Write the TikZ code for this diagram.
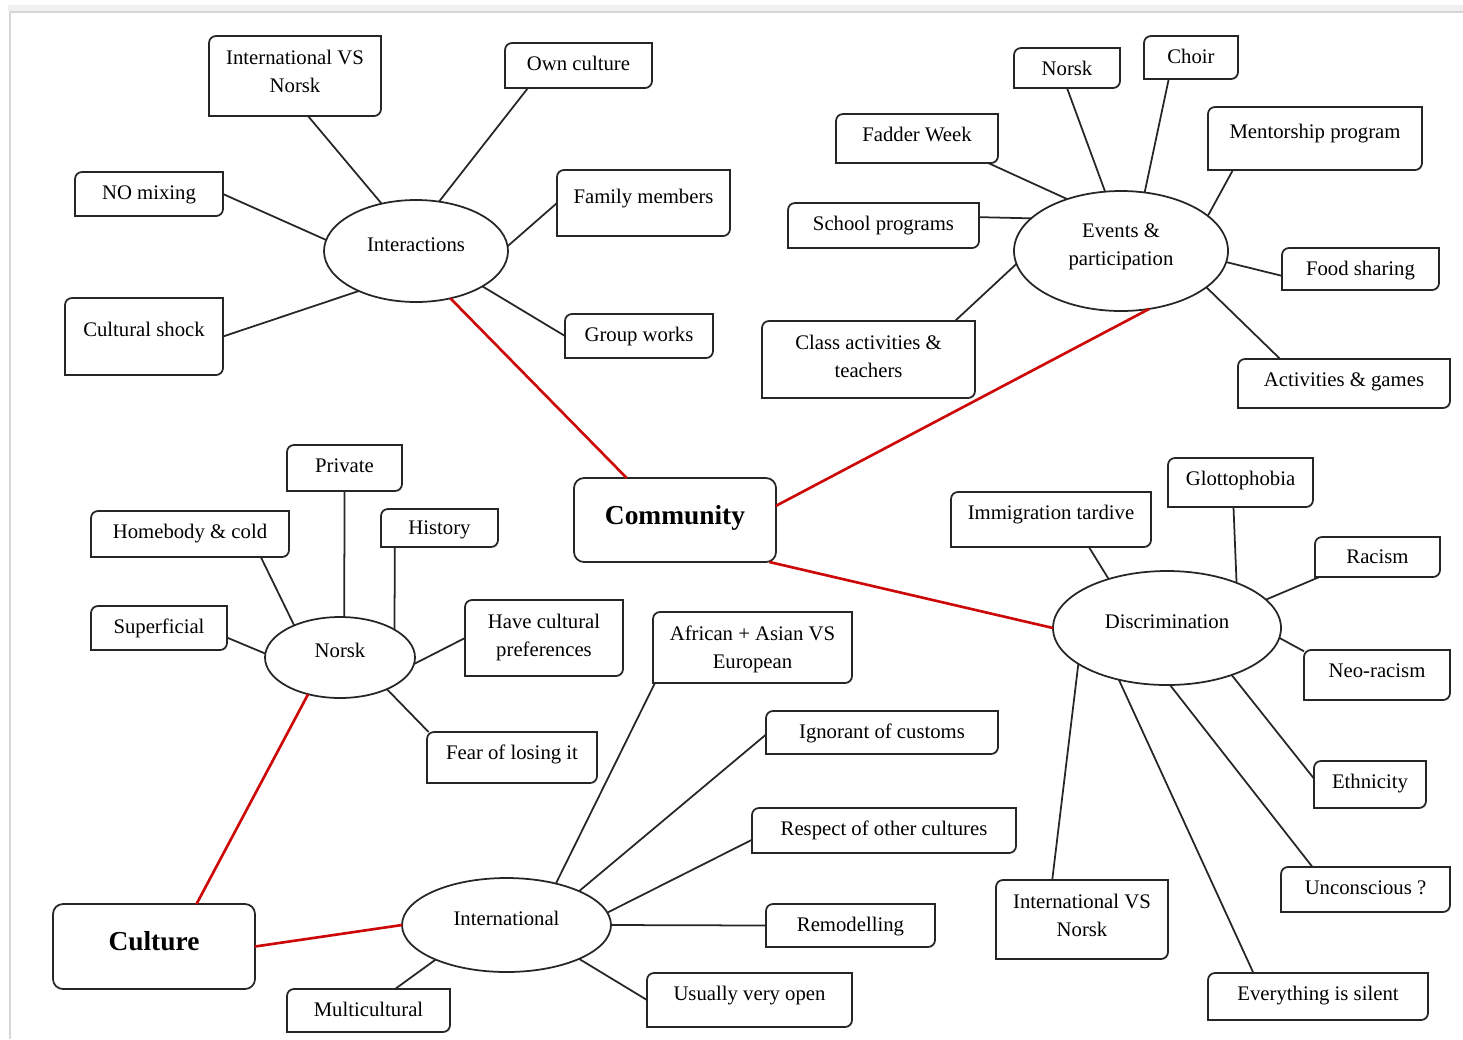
\documentclass[tikz,border=0pt]{standalone}
\usepackage{fontspec}
\setmainfont{Liberation Serif}
\usetikzlibrary{shapes.geometric}
\definecolor{linkred}{RGB}{204,8,8}
\tikzset{
  wh/.style 2 args={minimum width=#1*0.02cm, minimum height=#2*0.02cm},
  % the text hangs from the top of its box: the depth is what is left below it
  textdrop/.code={\pgfmathsetlengthmacro\boxdp{max(#1,0)*0.02cm}%
    \pgfkeysalso{/tikz/text depth/.expanded=\boxdp}},
  leafbase/.style={inner sep=0pt, outer sep=0pt, align=center,
    font=\fontsize{11.8}{15.9}\selectfont},
  leaf/.style 2 args={leafbase, wh={#1}{#2}, textdrop=#2-41},
  pairleaf/.style 2 args={leafbase, wh={#1}{#2}, textdrop=#2-71},
  raised/.style={text depth=0.28cm},
  hub/.style={ellipse, draw=black!85, line width=1pt, inner sep=0pt, outer sep=0pt,
    align=center, text depth=0.27cm, font=\fontsize{11.8}{15.9}\selectfont},
  mainbox/.style={draw=black!85, line width=1pt, rounded corners=0.2cm, inner sep=0pt,
    outer sep=0pt, text depth=0.21cm, font=\fontsize{15.6}{19}\selectfont\bfseries},
  twig/.style={draw=black!85, line width=1pt},
  link/.style={draw=linkred, line width=1.5pt},
}
% box with the top left and bottom right corners rounded
\newcommand\diagbox[1]{%
  \draw[twig] ([yshift=-0.14cm]#1.north west) arc[start angle=180, end angle=90, radius=0.14cm]
    -- (#1.north east) -- ([yshift=0.14cm]#1.south east)
    arc[start angle=0, end angle=-90, radius=0.14cm] -- (#1.south west) -- cycle
}

\begin{document}
\begin{tikzpicture}[x=0.02cm, y=-0.02cm]
  \useasboundingbox (0,0) rectangle (1463,1039);
  % page edge
  \fill[black!6] (8,5) rectangle (1463,12);
  \draw[black!16, line width=1pt] (10,12) -- (1463,12);
  \draw[black!16, line width=1pt] (10,12) -- (10,1039);

  % The two main boxes
  \node[mainbox, wh={202}{84}] (comm) at (675,520) {Community};
  \node[mainbox, wh={202}{85}] (cult) at (154,946.5) {Culture};

  % Interactions
  \node[hub, wh={184}{102}] (inter) at (416,251) {Interactions};
  \node[pairleaf={172}{80}] (ivsnA) at (295,76) {International VS\\Norsk};
  \node[leaf={147}{45}] (owncult) at (578.5,65.5) {Own culture};
  \node[leaf={148}{44}] (nomix) at (149,194) {NO mixing};
  \node[leaf={173}{66}, raised] (family) at (643.5,203) {Family members};
  \node[leaf={158}{77}, raised] (shock) at (144,336.5) {Cultural shock};
  \node[leaf={148}{44}] (group) at (639,336) {Group works};

  % Events & participation
  \node[hub, wh={214}{120}] (events) at (1121,251) {Events \&\\participation};
  \node[leaf={106}{40}] (enorsk) at (1067,68) {Norsk};
  \node[leaf={94}{43}] (choir) at (1191,57.5) {Choir};
  \node[leaf={162}{49}] (fadder) at (917,138.5) {Fadder Week};
  \node[leaf={214}{63}, raised] (mentor) at (1315,138.5) {Mentorship program};
  \node[leaf={191}{45}] (school) at (883.5,225.5) {School programs};
  \node[leaf={157}{42}] (food) at (1360.5,269) {Food sharing};
  \node[pairleaf={213}{77}] (classact) at (868.5,359.5) {Class activities \&\\teachers};
  \node[leaf={212}{49}] (actgames) at (1344,383.5) {Activities \& games};

  % Discrimination
  \node[hub, wh={228}{114}] (discr) at (1167,628) {Discrimination};
  \node[leaf={200}{55}] (immig) at (1051,519.5) {Immigration tardive};
  \node[leaf={145}{49}] (glotto) at (1240.5,482.5) {Glottophobia};
  \node[leaf={125}{40}] (racism) at (1377.5,557) {Racism};
  \node[leaf={146}{50}] (neo) at (1377,675) {Neo-racism};
  \node[leaf={112}{47}] (ethnic) at (1370,784.5) {Ethnicity};
  \node[leaf={169}{45}] (uncon) at (1365.5,889.5) {Unconscious ?};
  \node[leaf={220}{47}] (silent) at (1318,996.5) {Everything is silent};
  \node[pairleaf={172}{79}] (ivsnB) at (1082,919.5) {International VS\\Norsk};

  % Norsk
  \node[hub, wh={150}{81}] (norsk) at (340,657.5) {Norsk};
  \node[leaf={115}{46}] (private) at (344.5,468) {Private};
  \node[leaf={198}{46}] (homebody) at (190,534) {Homebody \& cold};
  \node[leaf={117}{38}] (history) at (439.5,528) {History};
  \node[leaf={136}{44}] (superf) at (159,628) {Superficial};
  \node[pairleaf={158}{76}] (prefs) at (544,638) {Have cultural\\preferences};
  \node[leaf={170}{51}] (fear) at (512,757.5) {Fear of losing it};

  % International
  \node[hub, wh={209}{94}] (intl) at (506.5,925) {International};
  \node[leaf={163}{43}] (multi) at (368.5,1010.5) {Multicultural};
  \node[pairleaf={199}{71}] (afras) at (752.5,647.5) {African + Asian VS\\European};
  \node[leaf={232}{43}] (ignorant) at (882,732.5) {Ignorant of customs};
  \node[leaf={264}{45}] (respect) at (884,830.5) {Respect of other cultures};
  \node[leaf={169}{43}] (remodel) at (850.5,925.5) {Remodelling};
  \node[leaf={205}{54}] (veryopen) at (749.5,1000) {Usually very open};

  \foreach \n in {ivsnA,owncult,nomix,family,shock,group,enorsk,choir,fadder,mentor,
    school,food,classact,actgames,immig,glotto,racism,neo,ethnic,uncon,silent,ivsnB,
    private,homebody,history,superf,prefs,fear,multi,afras,ignorant,respect,remodel,veryopen}
    \diagbox{\n};

  % red links between the themes
  \draw[link] (inter.-54) -- (comm.139);
  \draw[link] (comm.8) -- (events.-64);
  \draw[link] (comm.-24) -- (discr.west);
  \draw[link] (norsk.-131) -- (cult.45);
  \draw[link] (cult.east) -- (intl.west);

  % Interactions branches
  \draw[twig] (inter.126) -- (ivsnA.-72);
  \draw[twig] (inter.65) -- (owncult.-156);
  \draw[twig] (inter.173) -- (nomix.east);
  \draw[twig] (inter.3) -- (family.west);
  \draw[twig] (inter.-145) -- (shock.east);
  \draw[twig] (inter.-28) -- (group.west);

  % Events branches
  \draw[twig] (events.105) -- (enorsk.south);
  \draw[twig] (events.68) -- (choir.-136);
  \draw[twig] (events.136) -- (fadder.-19);
  \draw[twig] (events.22) -- (mentor.-159);
  \draw[twig] (events.160) -- (school.5);
  \draw[twig] (events.-6) -- (food.185);
  \draw[twig] (events.187) -- (classact.24);
  \draw[twig] (events.-23) -- (actgames.159);

  % Discrimination branches
  \draw[twig] (discr.140) -- (immig.-36);
  \draw[twig] (discr.33) -- (glotto.-106);
  \draw[twig] (discr.16) -- (racism.-161);
  \draw[twig] (discr.-5) -- (neo.162);
  \draw[twig] (discr.-36) -- (ethnic.174);
  \draw[twig] (discr.-87) -- (uncon.157);
  \draw[twig] (discr.-133) -- (silent.160);
  \draw[twig] (discr.-158) -- (ivsnB.127);

  % Norsk branches
  \draw[twig] (norsk.84) -- (private.south);
  \draw[twig] (norsk.145) -- (homebody.-18);
  \draw[twig] (norsk.27) -- (history.-157);
  \draw[twig] (norsk.177) -- (superf.-8);
  \draw[twig] (norsk.-5) -- (prefs.west);
  \draw[twig] (norsk.-34) -- (fear.163);

  % International branches
  \draw[twig] (intl.-154) -- (multi.39);
  \draw[twig] (intl.40) -- (afras.-160);
  \draw[twig] (intl.25) -- (ignorant.181);
  \draw[twig] (intl.7) -- (respect.184);
  \draw[twig] (intl.east) -- (remodel.west);
  \draw[twig] (intl.-25) -- (veryopen.west);
\end{tikzpicture}
\end{document}
